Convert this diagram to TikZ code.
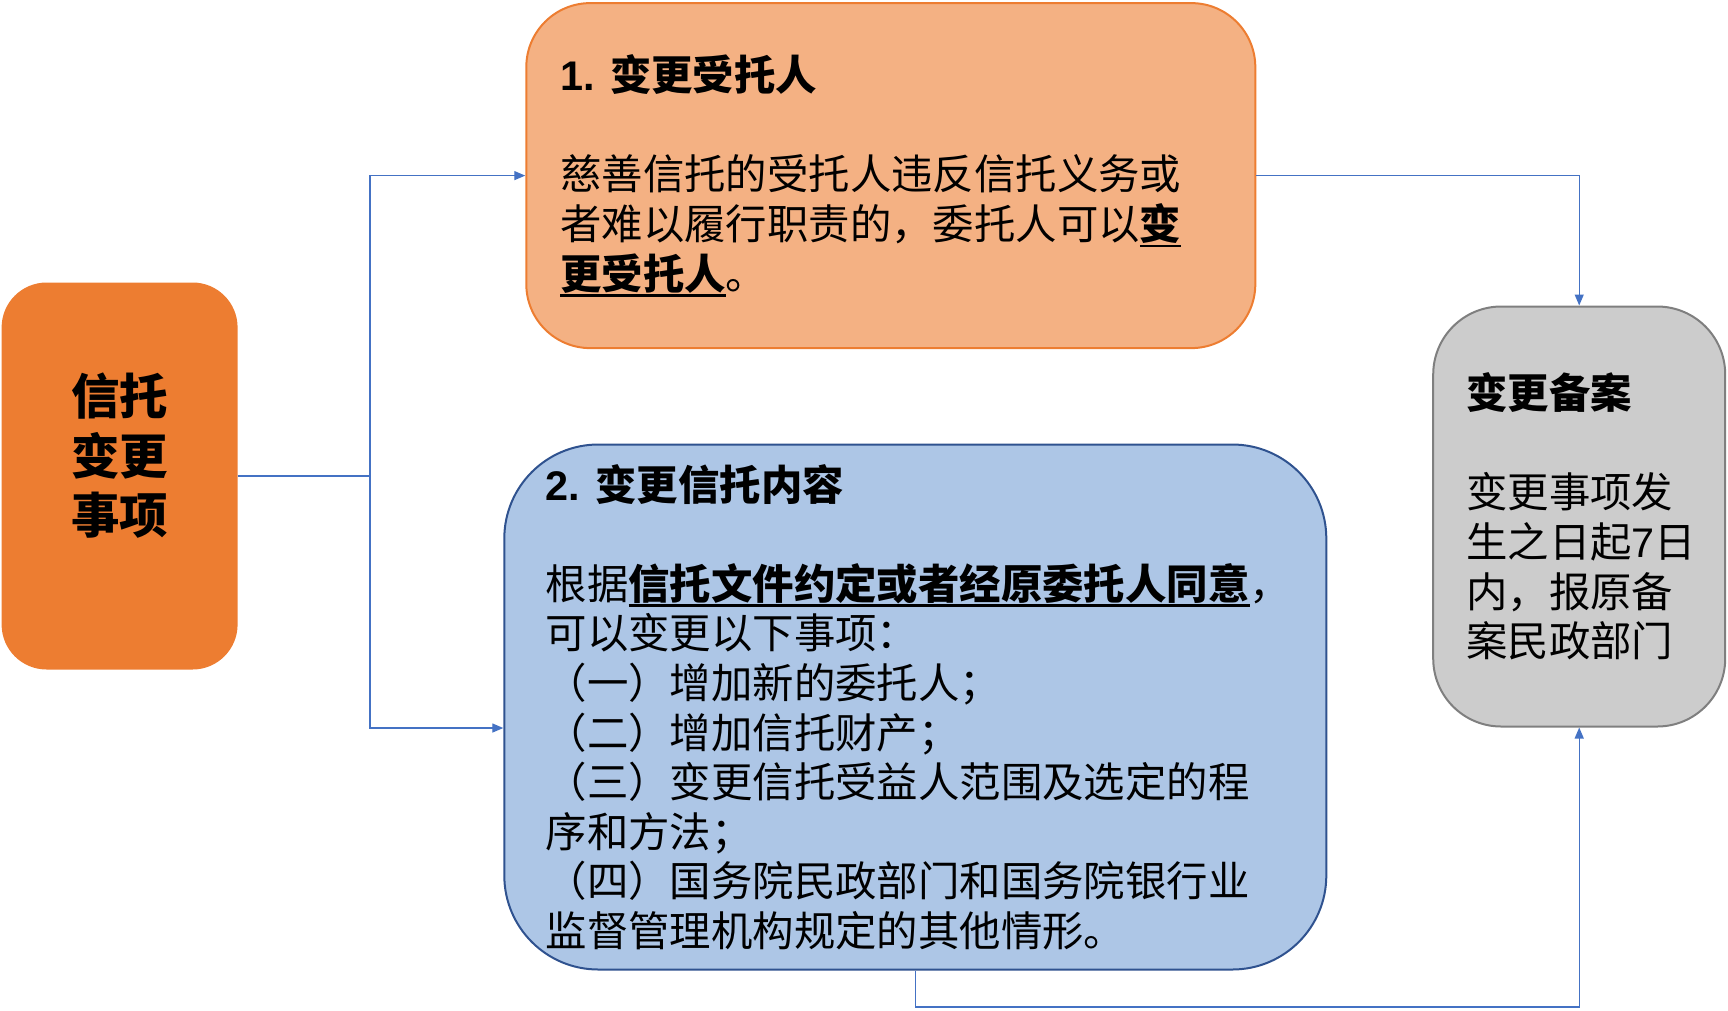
\documentclass[tikz,border=0pt]{standalone}
\usepackage{fontspec}
\setmainfont{Noto Sans CJK SC}
\newfontfamily\lat{Liberation Sans}
\usetikzlibrary{arrows.meta}
\definecolor{orangeA}{HTML}{ED7D31}
\definecolor{salmonA}{HTML}{F4B183}
\definecolor{blueF}{HTML}{ADC6E6}
\definecolor{blueB}{HTML}{2F528F}
\definecolor{grayF}{HTML}{CCCCCC}
\definecolor{grayB}{HTML}{7F7F7F}
\definecolor{connC}{HTML}{4472C4}
\newcommand\myul[1]{\setbox0\hbox{#1}\rlap{\rule[-7.5pt]{\wd0}{2.4pt}}\box0}
\begin{document}
\begin{tikzpicture}[x=1pt,y=-1pt,
  box/.style={rectangle, line width=2pt, inner sep=0pt},
  txt/.style={align=left, anchor=west, inner sep=0pt, font=\fontsize{41.4}{49.6}\selectfont},
  link/.style={draw=connC, line width=1.3pt},
  arr/.style={link, -{Triangle[length=11pt,width=9pt]}}]
\useasboundingbox (0,0) rectangle (1728,1010);
% boxes
\node[box, draw=orangeA, fill=orangeA, minimum width=234pt, minimum height=385pt, rounded corners=44pt] (src) at (119.6,476) {};
\node[box, draw=orangeA, fill=salmonA, minimum width=729pt, minimum height=345pt, rounded corners=64pt] (b1) at (890.8,175.6) {};
\node[box, draw=blueB, fill=blueF, minimum width=822pt, minimum height=525pt, rounded corners=94pt] (b2) at (915.3,707) {};
\node[box, draw=grayB, fill=grayF, minimum width=292pt, minimum height=420pt, rounded corners=68pt] (b3) at (1579.2,516.5) {};
% connectors
\coordinate (j) at (370,476);
\draw[link] (src.east) -- (j);
\draw[arr] (j) |- (b1.west);
\draw[arr] (j) |- ([yshift=-21pt]b2.west);
\draw[arr] (b1.east) -| (b3.north);
\coordinate (bot) at (915.3,1007);
\draw[arr] (b2.south) -- (bot) -| (b3.south);
% texts
\node[align=center, inner sep=0pt, font=\fontsize{48.5}{59.5}\selectfont\bfseries] (t0) at (119.6,456) {信托\\变更\\事项};
\node[txt] (t1) at (560,175.6) {\textbf{{\lat 1. }变更受托人}\\[49.6pt]
慈善信托的受托人违反信托义务或\\
者难以履行职责的，委托人可以\myul{\textbf{变}}\\
\myul{\textbf{更受托人}}。};
\node[txt] (t2) at (545.5,707) {\textbf{{\lat 2. }变更信托内容}\\[49.6pt]
根据\myul{\textbf{信托文件约定或者经原委托人同意}}，\\
可以变更以下事项：\\
（一）增加新的委托人；\\
（二）增加信托财产；\\
（三）变更信托受益人范围及选定的程\\
序和方法；\\
（四）国务院民政部门和国务院银行业\\
监督管理机构规定的其他情形。};
\node[txt] (t3) at (1466,516.5) {\textbf{变更备案}\\[49.6pt]
变更事项发\\
生之日起{\lat 7}日\\
内，报原备\\
案民政部门};
\end{tikzpicture}
\end{document}
